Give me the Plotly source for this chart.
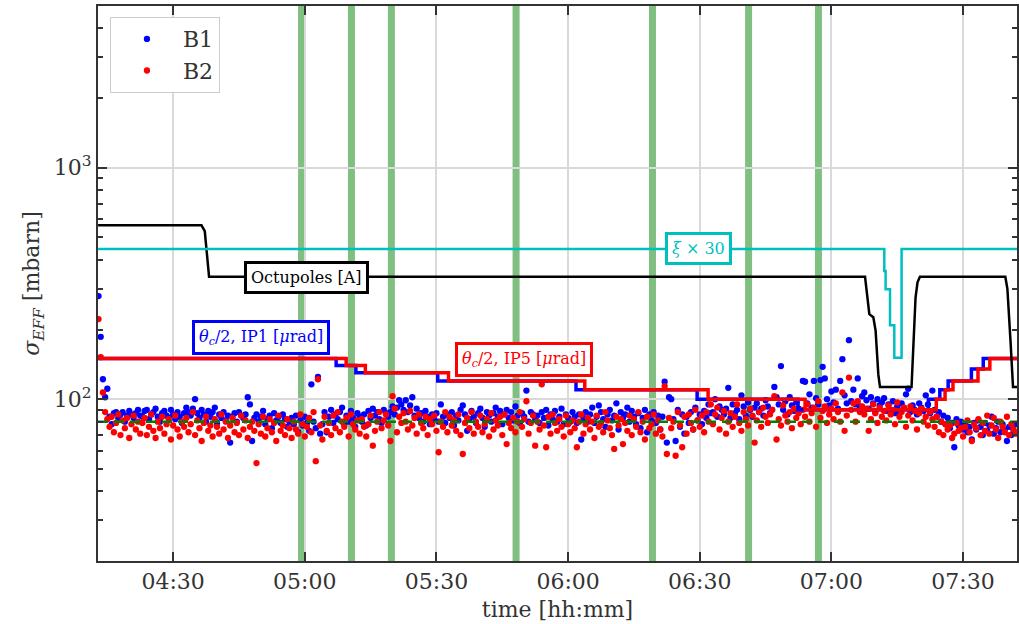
import math
import plotly.graph_objects as go

# ---- data -----------------------------------------------------------------
DAY = "2016-06-10"
SAMPLE_START_MIN = 13.0     # first luminosity sample, minutes after 04:00
SAMPLE_STEP_MIN = 0.5       # logging cadence

# effective cross-section per beam [mbarn], one row per 10 minutes
sigma_b1 = (
    [279, 186, 122, 102, 111, 84, 78, 87, 88, 83, 86, 88, 80, 85, 89, 86, 83, 87, 90, 85]
    + [84, 89, 90, 82, 86, 88, 91, 84, 80, 87, 89, 85, 83, 90, 86, 82, 88, 84, 79, 87]
    + [92, 88, 85, 91, 100, 87, 83, 90, 86, 80, 89, 84, 88, 92, 79, 86, 83, 88, 81, 85]
    + [65, 84, 87, 80, 88, 85, 83, 86, 102, 95, 66, 83, 86, 80, 84, 89, 78, 82, 85, 75]
    + [87, 81, 84, 79, 86, 82, 76, 80, 83, 78, 85, 72, 81, 77, 84, 79, 73, 116, 80, 75]
    + [125, 71, 78, 88, 72, 84, 90, 79, 86, 82, 88, 92, 78, 85, 80, 89, 83, 76, 87, 84]
    + [80, 86, 77, 89, 83, 91, 85, 88, 82, 79, 90, 87, 84, 88, 93, 86, 92, 99, 95, 90]
    + [99, 88, 94, 102, 85, 91, 83, 87, 80, 89, 84, 78, 86, 82, 87, 80, 95, 84, 79, 86]
    + [83, 88, 77, 85, 81, 90, 94, 86, 73, 82, 89, 84, 79, 87, 91, 83, 76, 88, 85, 80]
    + [87, 92, 84, 89, 78, 86, 90, 83, 88, 81, 93, 85, 79, 87, 84, 109, 80, 88, 86, 82]
    + [85, 79, 88, 83, 90, 77, 86, 82, 89, 80, 84, 91, 78, 86, 83, 80, 88, 84, 79, 86]
    + [67, 83, 88, 80, 86, 92, 79, 84, 94, 88, 82, 76, 86, 90, 81, 85, 96, 74, 88, 83]
    + [86, 92, 80, 89, 84, 78, 87, 75, 83, 90, 72, 86, 81, 88, 79, 85, 74, 84, 119, 65]
    + [102, 100, 82, 66, 90, 76, 86, 71, 84, 79, 88, 74, 92, 81, 86, 78, 89, 83, 95, 87]
    + [88, 100, 84, 93, 90, 86, 91, 112, 83, 95, 87, 90, 82, 104, 93, 85, 97, 90, 84, 92]
    + [96, 88, 91, 85, 99, 93, 87, 90, 113, 102, 95, 139, 90, 98, 86, 102, 94, 89, 97, 91]
    + [90, 120, 119, 96, 105, 92, 120, 101, 95, 121, 138, 123, 100, 94, 108, 97, 110, 91, 120, 149]
    + [104, 96, 180, 98, 110, 95, 123, 93, 103, 107, 99, 91, 102, 96, 88, 100, 94, 97, 101, 89]
    + [95, 90, 98, 87, 93, 89, 96, 92, 105, 111, 88, 94, 90, 86, 96, 92, 89, 104, 95, 87]
    + [109, 90, 84, 88, 80, 85, 78, 83, 75, 79, 62, 82, 77, 80, 74, 78, 72, 76, 67, 79]
    + [74, 81, 76, 70, 79, 73, 77, 84, 71, 75, 80, 72, 78, 74, 66, 76, 70, 73, 78]
)
sigma_b2 = (
    [222, 152, 107, 88, 82, 76, 84, 72, 79, 86, 70, 81, 75, 83, 68, 78, 85, 74, 80, 71]
    + [79, 83, 70, 76, 86, 73, 68, 80, 75, 84, 71, 78, 82, 67, 77, 85, 74, 69, 80, 76]
    + [83, 72, 78, 88, 70, 81, 75, 66, 79, 84, 73, 77, 69, 82, 76, 71, 86, 74, 80, 68]
    + [77, 83, 72, 79, 70, 85, 74, 81, 68, 76, 80, 73, 53, 78, 71, 84, 69, 75, 82, 72]
    + [79, 66, 85, 73, 77, 70, 82, 75, 68, 80, 74, 71, 86, 78, 69, 76, 83, 72, 88, 54]
    + [122, 77, 67, 84, 73, 79, 70, 85, 75, 88, 72, 80, 76, 83, 69, 86, 78, 74, 81, 71]
    + [82, 76, 69, 78, 85, 63, 73, 80, 88, 75, 81, 86, 77, 66, 103, 91, 72, 84, 79, 87]
    + [80, 74, 89, 77, 83, 71, 86, 79, 75, 84, 70, 82, 78, 85, 73, 59, 80, 76, 88, 72]
    + [84, 77, 81, 73, 86, 70, 58, 79, 83, 75, 88, 71, 80, 76, 85, 72, 78, 82, 69, 87]
    + [74, 81, 77, 84, 70, 86, 64, 79, 75, 83, 72, 80, 88, 76, 82, 98, 71, 79, 85, 63]
    + [80, 74, 116, 77, 62, 84, 71, 86, 79, 73, 82, 76, 69, 85, 78, 72, 81, 75, 62, 80]
    + [86, 71, 78, 83, 74, 80, 68, 85, 76, 79, 72, 88, 81, 75, 70, 61, 84, 77, 82, 64]
    + [79, 73, 85, 70, 82, 76, 88, 72, 80, 67, 84, 75, 78, 86, 71, 81, 74, 69, 114, 58]
    + [83, 75, 80, 57, 88, 77, 62, 84, 71, 86, 79, 74, 90, 81, 76, 85, 72, 88, 80, 95]
    + [78, 86, 92, 74, 83, 89, 71, 80, 87, 76, 84, 95, 79, 73, 88, 82, 77, 91, 85, 65]
    + [81, 88, 76, 92, 84, 79, 86, 90, 103, 67, 82, 77, 94, 85, 80, 88, 75, 91, 83, 87]
    + [78, 90, 84, 95, 80, 87, 92, 76, 98, 83, 89, 93, 79, 86, 91, 82, 96, 88, 80, 107]
    + [73, 85, 124, 90, 96, 80, 98, 88, 93, 86, 91, 73, 82, 95, 87, 79, 92, 84, 89, 81]
    + [94, 86, 90, 78, 97, 84, 88, 92, 76, 85, 93, 81, 89, 74, 87, 91, 80, 84, 77, 88]
    + [82, 76, 84, 72, 80, 70, 78, 74, 77, 68, 71, 79, 73, 75, 69, 76, 81, 72, 66, 78]
    + [75, 82, 70, 79, 73, 85, 71, 77, 83, 74, 68, 80, 76, 72, 84, 70, 78, 74, 71]
)

# half crossing angle steps [urad] (times in minutes after 04:00)
ip1_times = [12.9, 67.15, 71.65, 90.3, 121.8, 149.4, 172.4, 202.1, 204.7, 206.6, 211.9, 214.6, 222.3]
ip1_angle = [150, 140, 130, 120, 110, 100, 90, 100, 110, 120, 135, 150, 150]
ip5_times = [12.9, 69.43, 73.8, 92.75, 123.8, 151.9, 174.0, 203.9, 205.9, 207.7, 213.4, 216.1, 222.3]
ip5_angle = [150, 140, 130, 120, 110, 100, 90, 100, 110, 120, 135, 150, 150]

# octupole current [A]
oct_times = [12.9, 36.46, 37.21, 37.59, 38.19, 187.66, 188.64, 189.55, 190.07, 190.69, 191.07,
             198.26, 198.65, 199.17, 199.62, 200.17, 219.63, 220.1, 220.8, 221.38, 222.3]
oct_current = [564, 564, 533, 437, 338, 338, 233, 226, 198, 128, 113,
               113, 167, 275, 320, 338, 338, 300, 180, 113, 113]

# beam-beam parameter, scaled by 30
xi_times = [12.9, 192.05, 192.35, 193.35, 194.33, 195.99, 222.3]
xi_scaled = [446, 358, 299, 209, 151, 446, 446]

# reference cross-section [mbarn]
sigma_ref = 80
# alignment scans
scan_times = [59.26, 70.63, 79.73, 108.15, 139.23, 161.13, 177.05]

x_start, x_end = 12.88, 222.29


def ts(minutes):
    total = 4 * 3600 + minutes * 60.0
    h = int(total // 3600)
    m = int((total % 3600) // 60)
    s = total - h * 3600 - m * 60
    return f"{DAY} {h:02d}:{m:02d}:{s:06.3f}"


sample_times = [ts(SAMPLE_START_MIN + SAMPLE_STEP_MIN * i) for i in range(len(sigma_b1))]
sample_times_b2 = [ts(SAMPLE_START_MIN + SAMPLE_STEP_MIN * i) for i in range(len(sigma_b2))]

SERIF = "DejaVu Serif"
INK = "#333333"
CYAN = "#00bfbf"

fig = go.Figure()

fig.add_trace(go.Scatter(x=sample_times, y=sigma_b1, mode="markers", name="B1",
                         marker=dict(color="blue", size=6.3, line=dict(width=0))))
fig.add_trace(go.Scatter(x=sample_times_b2, y=sigma_b2, mode="markers", name="B2",
                         marker=dict(color="red", size=6.3, line=dict(width=0))))

fig.add_trace(go.Scatter(x=[ts(x_start), ts(x_end)], y=[sigma_ref, sigma_ref], mode="lines",
                         line=dict(color="green", width=2.5, dash="10px,6px"),
                         showlegend=False, hoverinfo="skip"))

fig.add_trace(go.Scatter(x=[ts(t) for t in ip1_times], y=ip1_angle, mode="lines",
                         line=dict(color="blue", width=3.5, shape="hv"), showlegend=False))
fig.add_trace(go.Scatter(x=[ts(t) for t in ip5_times], y=ip5_angle, mode="lines",
                         line=dict(color="red", width=3.5, shape="hv"), showlegend=False))
fig.add_trace(go.Scatter(x=[ts(t) for t in oct_times], y=oct_current, mode="lines",
                         line=dict(color="black", width=2.5), showlegend=False))
fig.add_trace(go.Scatter(x=[ts(t) for t in xi_times], y=xi_scaled, mode="lines",
                         line=dict(color=CYAN, width=2.5, shape="hv"), showlegend=False))

for t in scan_times:
    fig.add_shape(type="line", xref="x", yref="paper", x0=ts(t), x1=ts(t), y0=0, y1=1,
                  line=dict(color="rgba(0,128,0,0.5)", width=7), layer="between")


def label(text, t, value, color):
    fig.add_annotation(x=ts(t), y=math.log10(value), text=text, showarrow=False,
                       font=dict(family=SERIF, size=16, color=color),
                       bgcolor="white", bordercolor=color, borderwidth=3, borderpad=4)


label("Octupoles [A]", 60.4, 337, "black")
label("<i>θ</i><sub><i>c</i></sub>/2, IP1 [<i>μ</i>rad]", 49.98, 184, "blue")
label("<i>θ</i><sub><i>c</i></sub>/2, IP5 [<i>μ</i>rad]", 109.96, 149, "red")
label("<i>ξ</i> × 30", 149.8, 450, CYAN)

axis_common = dict(
    showline=True, linecolor=INK, linewidth=2, mirror="allticks",
    ticks="inside", ticklen=9, tickwidth=2, tickcolor=INK,
    showgrid=True, gridcolor="#d9d9d9", gridwidth=1.5, zeroline=False,
    tickfont=dict(family=SERIF, size=22, color=INK),
)

minor_vals = [v * d for d in (10, 100, 1000) for v in range(2, 10)]

fig.update_layout(
    width=1019, height=624,
    margin=dict(l=98, r=0, t=6, b=63),
    paper_bgcolor="white", plot_bgcolor="white",
    font=dict(family=SERIF, color=INK),
    showlegend=True,
    legend=dict(x=0.013, y=0.98, xanchor="left", yanchor="top",
                bgcolor="white", bordercolor="#cccccc", borderwidth=1,
                font=dict(family=SERIF, size=22, color=INK), itemwidth=62,
                tracegroupgap=0),
    xaxis=dict(
        **axis_common,
        type="date", range=[ts(x_start), ts(x_end)],
        tick0=ts(0), dtick=30 * 60 * 1000, tickformat="%H:%M",
        title=dict(text="time [hh:mm]", font=dict(family=SERIF, size=22, color=INK), standoff=8),
    ),
    yaxis=dict(
        **axis_common,
        type="log", range=[math.log10(20), math.log10(5000)],
        tickmode="array", tickvals=[100, 1000], ticktext=["10<sup>2</sup>", "10<sup>3</sup>"],
        minor=dict(tickmode="array", tickvals=minor_vals, ticks="inside", ticklen=5,
                   tickwidth=1.5, tickcolor=INK, showgrid=False),
        title=dict(text="<i>σ</i><sub><i>EFF</i></sub> [mbarn]",
                   font=dict(family=SERIF, size=22, color=INK), standoff=8),
    ),
)

fig.write_html("out.html")
